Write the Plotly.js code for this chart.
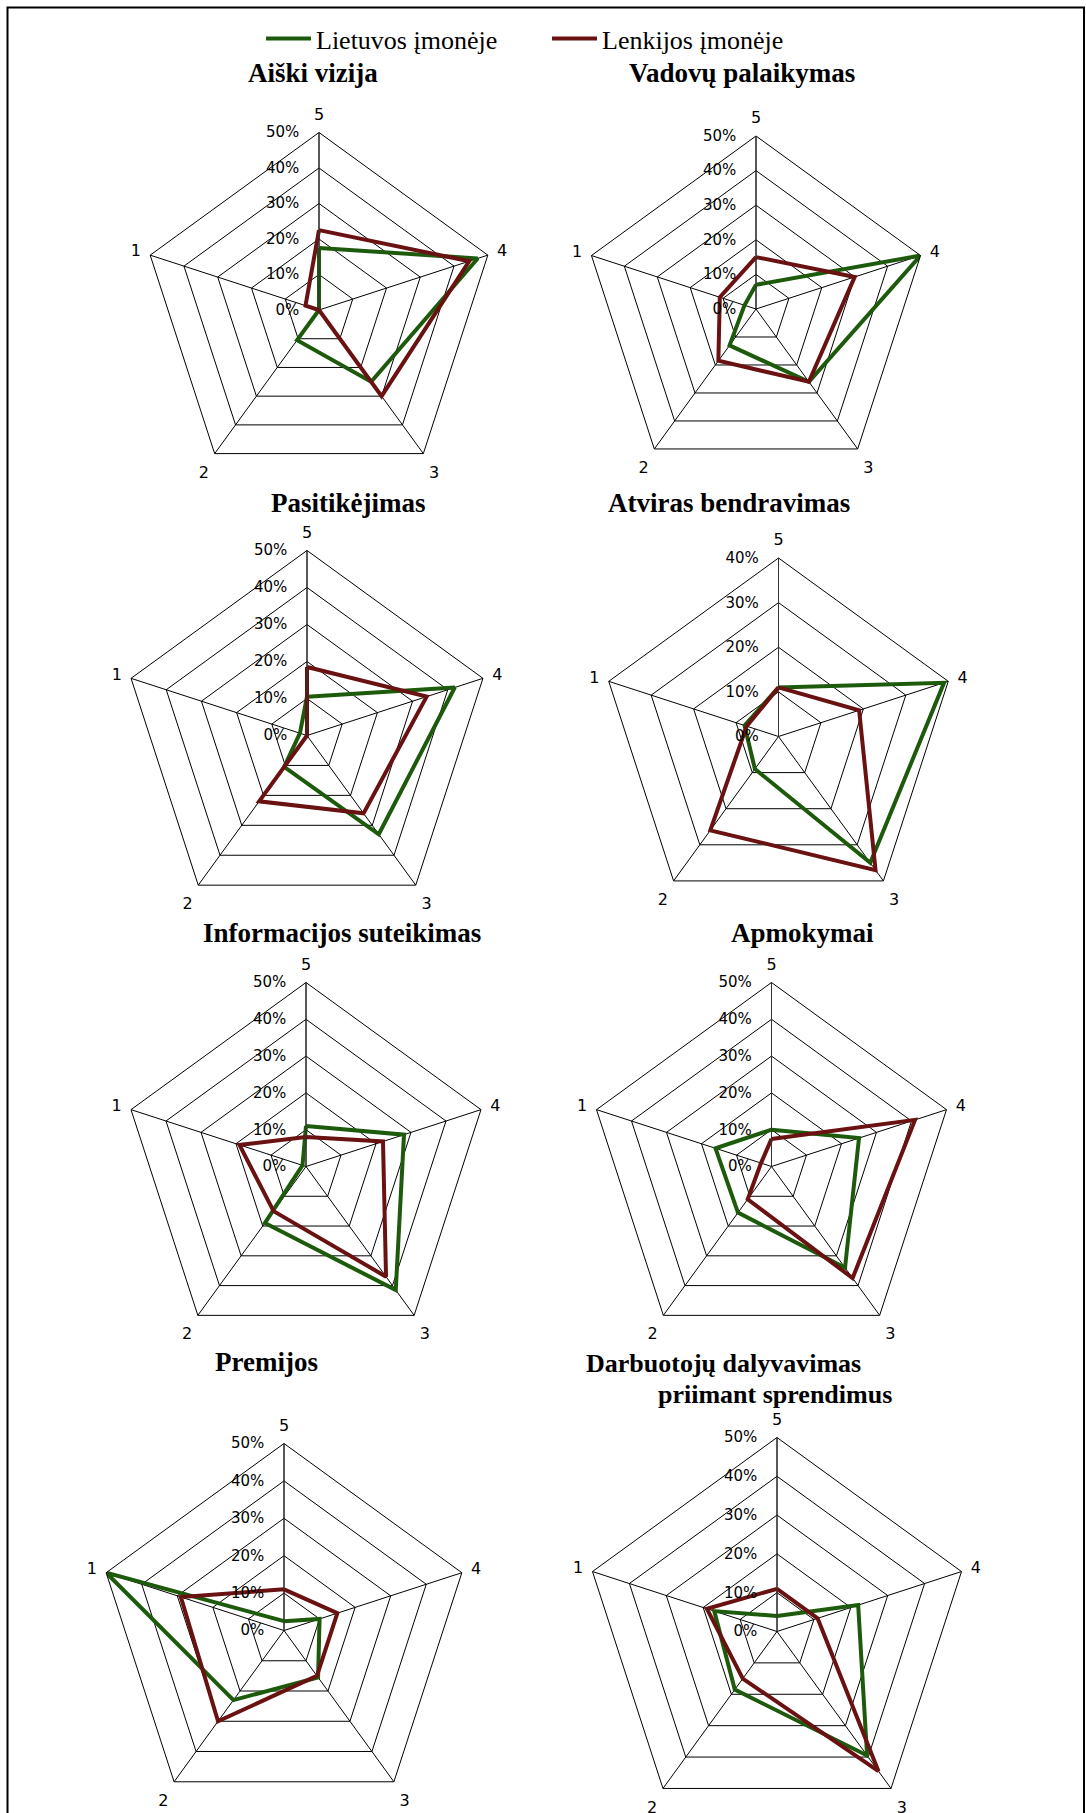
<!DOCTYPE html>
<html>
<head>
<meta charset="utf-8">
<script src="https://cdn.plot.ly/plotly-3.0.1.min.js"></script>
<style>
  html, body { margin: 0; padding: 0; background: #fff; overflow: hidden; }
  #chart { width: 1086px; height: 1840px; }
</style>
</head>
<body>
<div id="chart"></div>
<script>
// Rating scale shown on the angular axis (clockwise from the top)
const ratingOrder = ['5', '4', '3', '2', '1'];
// Values below are listed for ratings 1, 2, 3, 4, 5 (percent of respondents)
const ratings = ['1', '2', '3', '4', '5'];

const seriesNames = ['Lietuvos įmonėje', 'Lenkijos įmonėje'];
const seriesColors = ['#1d5a0c', '#6a1111'];

const chartTitles = [
  'Aiški vizija',
  'Vadovų palaikymas',
  'Pasitikėjimas',
  'Atviras bendravimas',
  'Informacijos suteikimas',
  'Apmokymai',
  'Premijos',
  'Darbuotojų dalyvavimas',
  'priimant sprendimus'
];

const aiskiVizijaLT = [0, 10.5, 25, 47, 17.5];
const aiskiVizijaPL = [4, 0, 30, 44.5, 22.5];

const vadovuPalaikymasLT = [3.5, 13, 26, 50, 7];
const vadovuPalaikymasPL = [11, 18.5, 26, 30, 15];

const pasitikejimasLT = [2, 10.5, 33, 42, 10.5];
const pasitikejimasPL = [0, 22, 26, 34, 18.5];

const atvirasBendravimasLT = [8, 9, 35, 39, 11];
const atvirasBendravimasPL = [7.5, 26, 37, 19, 11];

const informacijaLT = [1, 19, 41.5, 28, 11];
const informacijaPL = [19, 15, 37, 22, 8];

const apmokymaiLT = [16, 15.5, 34, 25, 10];
const apmokymaiPL = [3, 11, 37.5, 41, 7.5];

const premijosLT = [50, 23, 15.5, 10, 2.5];
const premijosPL = [29, 30, 15, 15, 11];

const dalyvavimasLT = [17, 18.5, 39.5, 22, 4];
const dalyvavimasPL = [19, 15, 44.5, 11, 11];

// Radial axis maximum (percent) for each panel
const radialMax = [50, 50, 50, 40, 50, 50, 50, 50];

const panelData = [
  [aiskiVizijaLT, aiskiVizijaPL],
  [vadovuPalaikymasLT, vadovuPalaikymasPL],
  [pasitikejimasLT, pasitikejimasPL],
  [atvirasBendravimasLT, atvirasBendravimasPL],
  [informacijaLT, informacijaPL],
  [apmokymaiLT, apmokymaiPL],
  [premijosLT, premijosPL],
  [dalyvavimasLT, dalyvavimasPL]
];

const W = 1086, H = 1840;

// Panel geometry in pixels: centre x, centre y, radius
const panelBox = [
  [319, 310, 177.5],
  [756, 309, 173],
  [307, 735.5, 185],
  [778.5, 736.5, 178.5],
  [306, 1166.5, 184],
  [771.5, 1166.5, 184],
  [284, 1630.5, 187],
  [777, 1631.5, 194]
];

// Title placement in pixels: centre x, centre y, font size
const titleBox = [
  [313, 73, 27],
  [742, 73, 27],
  [348, 503, 27],
  [728.5, 503, 27],
  [342, 933, 27],
  [802, 933, 27],
  [266, 1362, 27],
  [723, 1363, 26],
  [775, 1394, 26]
];

const tickFont = { family: 'DejaVu Sans', size: 15, color: '#000' };

function toTheta(values) {
  // reorder 1..5 values into 5,4,3,2,1 and close the outline
  const byRating = {};
  ratings.forEach((r, i) => { byRating[r] = values[i]; });
  const r = ratingOrder.map(k => byRating[k]);
  return { r: r.concat([r[0]]), theta: ratingOrder.concat([ratingOrder[0]]) };
}

const traces = [];
const layout = {
  width: W,
  height: H,
  margin: { l: 0, r: 0, t: 0, b: 0 },
  paper_bgcolor: '#fff',
  showlegend: true,
  legend: {
    orientation: 'h',
    x: 261 / W,
    y: 1 - 15 / H,
    xanchor: 'left',
    yanchor: 'top',
    font: { family: 'Liberation Serif', size: 26, color: '#000' },
    itemwidth: 45,
    entrywidth: 226,
    bgcolor: 'rgba(0,0,0,0)'
  },
  annotations: [],
  shapes: [
    {
      type: 'rect', xref: 'paper', yref: 'paper',
      x0: 7.5 / W, x1: 1084 / W, y0: 1 - 1835 / H, y1: 1 - 7.5 / H,
      line: { color: '#000', width: 2 }, fillcolor: 'rgba(0,0,0,0)'
    }
  ]
};

panelData.forEach((pair, p) => {
  const id = p === 0 ? 'polar' : 'polar' + (p + 1);
  const [cx, cy, R] = panelBox[p];
  const ticks = [];
  for (let t = 0; t <= radialMax[p]; t += 10) ticks.push(t);

  layout[id] = {
    domain: {
      x: [(cx - R) / W, (cx + R) / W],
      y: [1 - (cy + R) / H, 1 - (cy - R) / H]
    },
    gridshape: 'linear',
    bgcolor: 'rgba(0,0,0,0)',
    radialaxis: {
      range: [0, radialMax[p]],
      tickvals: ticks,
      ticktext: ticks.map(t => t + '%'),
      angle: 90,
      side: 'counterclockwise',
      tickangle: 90,
      showline: true,
      linecolor: '#333',
      linewidth: 1,
      showgrid: true,
      gridcolor: '#000',
      gridwidth: 1,
      ticks: 'outside',
      ticklen: 14,
      tickcolor: 'rgba(0,0,0,0)',
      tickfont: tickFont
    },
    angularaxis: {
      type: 'category',
      categoryorder: 'array',
      categoryarray: ratingOrder,
      direction: 'clockwise',
      rotation: 90,
      showline: true,
      linecolor: '#000',
      linewidth: 1,
      showgrid: true,
      gridcolor: '#000',
      gridwidth: 1,
      ticks: 'outside',
      ticklen: 6,
      tickcolor: 'rgba(0,0,0,0)',
      tickfont: { family: 'DejaVu Sans', size: 16, color: '#000' }
    }
  };

  pair.forEach((vals, s) => {
    const d = toTheta(vals);
    traces.push({
      type: 'scatterpolar',
      subplot: id,
      r: d.r,
      theta: d.theta,
      mode: 'lines',
      name: seriesNames[s],
      legendgroup: seriesNames[s],
      showlegend: p === 0,
      line: { color: seriesColors[s], width: 4 },
      hoverinfo: 'skip'
    });
  });
});

titleBox.forEach((tb, i) => {
  layout.annotations.push({
    xref: 'paper', yref: 'paper',
    x: tb[0] / W, y: 1 - tb[1] / H,
    xanchor: 'center', yanchor: 'middle',
    showarrow: false,
    text: '<b>' + chartTitles[i] + '</b>',
    font: { family: 'Liberation Serif', size: tb[2], color: '#000' }
  });
});

Plotly.newPlot('chart', traces, layout, { staticPlot: true, displayModeBar: false });
</script>
</body>
</html>
